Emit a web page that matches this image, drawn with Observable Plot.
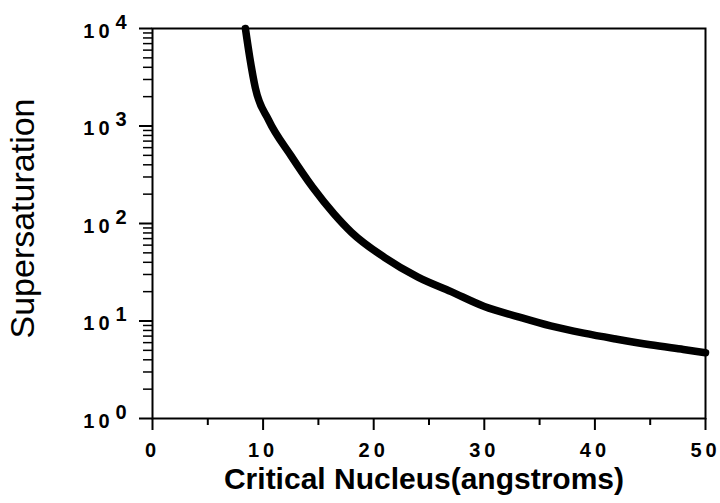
<!DOCTYPE html>
<html>
<head>
<meta charset="utf-8">
<script src="https://cdn.jsdelivr.net/npm/d3@7"></script>
<script src="https://cdn.jsdelivr.net/npm/@observablehq/plot@0.6"></script>
<style>
  html, body { margin: 0; padding: 0; background: #fff; }
  #chart { width: 720px; height: 503px; }
</style>
</head>
<body>
<div id="chart"></div>
<script>
// Critical nucleus radius (angstroms)
const radius = [8.4, 8.8, 9.3, 10.5, 12.5, 14.5, 16.4, 18, 21, 24, 27, 30, 33, 36, 39, 42, 45, 48, 50];
// Supersaturation
const supersat = [10000, 5000, 2450, 1150, 500, 234, 126, 81, 44.7, 28.2, 20, 14.1, 11.1, 8.9, 7.5, 6.5, 5.7, 5.1, 4.73];

const xMajor = [0, 10, 20, 30, 40, 50];
const xMinor = [5, 15, 25, 35, 45];
const yMajor = [1, 10, 100, 1000, 10000];
const yExp = ["0", "1", "2", "3", "4"];
const yMinor = [];
for (const d of [1, 10, 100, 1000]) for (let k = 2; k <= 9; k++) yMinor.push(d * k);

const xLabel = "Critical Nucleus(angstroms)";
const yLabel = "Supersaturation";

const data = radius.map((r, i) => ({r, s: supersat[i]}));
const majors = yMajor.map((v, i) => ({v, e: yExp[i]}));
const spaced = d => String(d).split("").join("\u2009");

const chart = Plot.plot({
  width: 720,
  height: 503,
  marginLeft: 152,
  marginRight: 15,
  marginTop: 28,
  marginBottom: 85,
  style: {fontFamily: "'Liberation Sans', Arial, sans-serif", background: "#fff", color: "#000"},
  x: {domain: [0, 50], axis: null},
  y: {type: "log", domain: [1, 10000], axis: null},
  marks: [
    Plot.line(data, {x: "r", y: "s", stroke: "#000", strokeWidth: 7.5, curve: "monotone-x"}),
    Plot.frame({stroke: "#000", strokeWidth: 2}),
    Plot.axisX(xMajor, {anchor: "bottom", tickSize: 12, strokeWidth: 2, text: null, label: null}),
    Plot.axisX(xMinor, {anchor: "bottom", tickSize: 7, strokeWidth: 2, text: null, label: null}),
    Plot.text(xMajor, {x: d => d, text: spaced, frameAnchor: "bottom", dy: 38, dx: -2, fontSize: 20, fontWeight: "bold"}),
    Plot.axisY(yMajor, {anchor: "left", tickSize: 13, strokeWidth: 2, text: null, label: null}),
    Plot.axisY(yMinor, {anchor: "left", tickSize: 9, strokeWidth: 1.5, text: null, label: null}),
    Plot.text(majors, {y: "v", text: () => spaced(10), frameAnchor: "left", textAnchor: "end", dx: -43, dy: 3, fontSize: 20, fontWeight: "bold"}),
    Plot.text(majors, {y: "v", text: "e", frameAnchor: "left", textAnchor: "start", dx: -37, dy: -6, fontSize: 20, fontWeight: "bold"}),
    Plot.text([xLabel], {frameAnchor: "bottom", textAnchor: "middle", dx: -5, dy: 70, text: d => d, fontSize: 30, fontWeight: "bold"}),
    Plot.text([yLabel], {frameAnchor: "left", textAnchor: "middle", dx: -129, dy: -5, text: d => d, rotate: -90, fontSize: 34})
  ]
});
document.getElementById("chart").appendChild(chart);
</script>
</body>
</html>
